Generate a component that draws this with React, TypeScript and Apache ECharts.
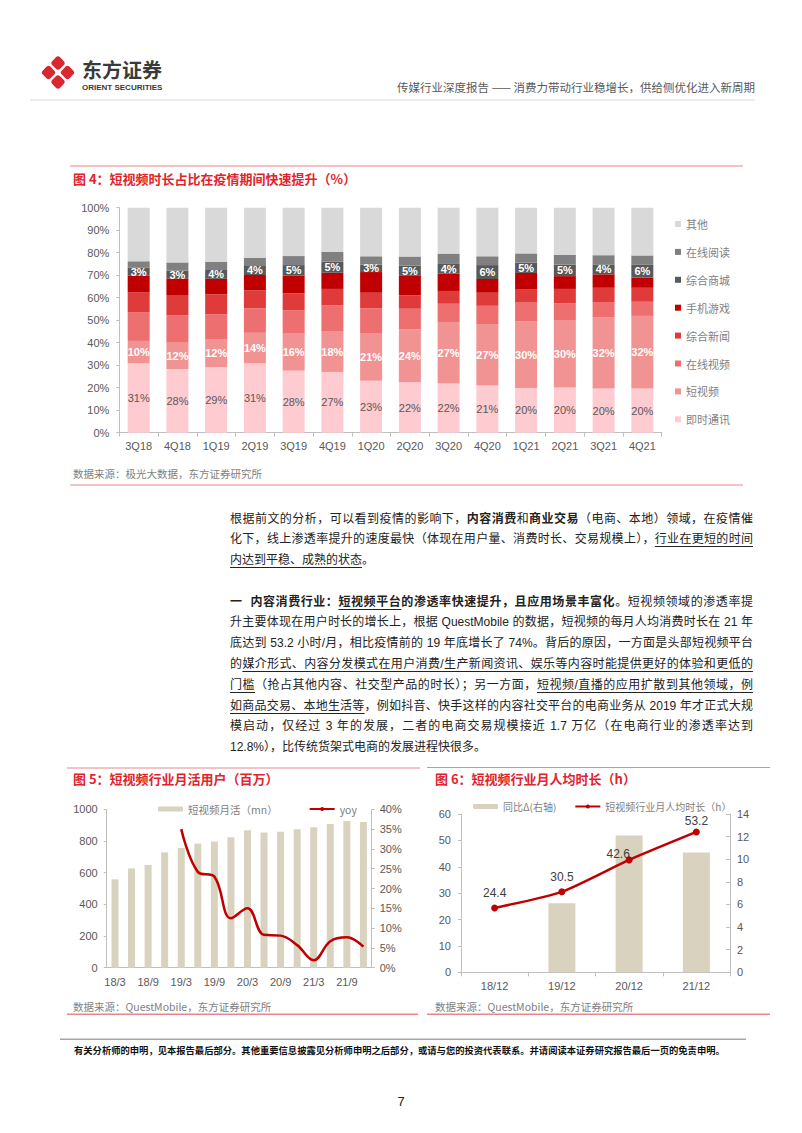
import React, { useEffect, useRef } from "react";
import * as echarts from "echarts";

// ---------- Figure 4 data ----------
const quarters = ["3Q18", "4Q18", "1Q19", "2Q19", "3Q19", "4Q19", "1Q20", "2Q20", "3Q20", "4Q20", "1Q21", "2Q21", "3Q21", "4Q21"];
const imShare = [30.8, 28.3, 29.2, 30.8, 27.6, 27.0, 23.1, 22.4, 21.9, 21.0, 19.9, 20.1, 19.7, 19.6];
const shortVideoShare = [10.0, 11.7, 12.4, 13.6, 16.4, 17.9, 21.2, 23.6, 27.0, 27.3, 29.6, 30.0, 31.6, 32.3];
const onlineVideoShare = [12.8, 12.1, 11.0, 10.9, 10.4, 11.7, 11.0, 9.1, 8.4, 8.1, 8.3, 7.4, 6.8, 6.3];
const newsShare = [8.7, 9.1, 8.9, 8.0, 7.5, 7.3, 6.9, 6.0, 5.7, 5.8, 5.8, 6.4, 6.3, 6.2];
const gameShare = [7.6, 7.4, 6.9, 6.8, 8.0, 7.2, 9.2, 8.6, 7.7, 6.1, 7.4, 5.7, 6.0, 4.5];
const mallShare = [3.4, 3.4, 3.9, 4.0, 4.6, 4.9, 3.3, 4.6, 4.3, 6.2, 4.6, 5.1, 4.4, 5.9];
const readingShare = [2.9, 3.7, 3.6, 3.7, 4.0, 4.3, 3.7, 4.0, 4.6, 3.9, 4.1, 4.4, 4.1, 4.0];
const otherShare = [23.8, 24.3, 24.1, 22.2, 21.5, 19.7, 21.6, 21.7, 20.4, 21.6, 20.3, 20.9, 21.1, 21.2];
const fig4Names = ["即时通讯", "短视频", "在线视频", "综合新闻", "手机游戏", "综合商城", "在线阅读", "其他"];
const fig4Ticks = [0, 10, 20, 30, 40, 50, 60, 70, 80, 90, 100];

// ---------- Figure 5 data ----------
const months = ["18/3", "18/6", "18/9", "18/12", "19/3", "19/6", "19/9", "19/12", "20/3", "20/6", "20/9", "20/12", "21/3", "21/6", "21/9", "21/12"];
const mau = [558, 627, 648, 728, 756, 783, 796, 823, 867, 853, 859, 874, 886, 907, 926, 920];
const mauYoy = [null, null, null, null, 35.0, 24.2, 23.0, 12.5, 15.0, 8.3, 8.1, 5.7, 1.9, 6.7, 7.7, 5.3];

// ---------- Figure 6 data ----------
const years = ["18/12", "19/12", "20/12", "21/12"];
const hours = [24.4, 30.5, 42.6, 53.2];
const hoursDelta = [null, 6.1, 12.1, 10.6];

const fig4Colors = ["#FECBD1", "#F19393", "#EE6F6F", "#E03B3B", "#C00000", "#595959", "#808080", "#D9D9D9"];
const fig4Data = [imShare, shortVideoShare, onlineVideoShare, newsShare, gameShare, mallShare, readingShare, otherShare];

const AX = "#BFBFBF";
const LBL = "#595959";
const RED_TITLE = "#E2232E";
const RED_LINE = "#E9868C";
const SANS = 'Arial, "Liberation Sans", "Noto Sans CJK SC", sans-serif';
const CJK = '"Noto Sans CJK SC", "Liberation Sans", sans-serif';

function txt(x: number, y: number, text: string, o: any = {}) {
  return {
    type: "text",
    x,
    y,
    silent: true,
    style: {
      text,
      fill: o.fill || "#333",
      fontSize: o.fontSize || 12,
      fontWeight: o.fontWeight || "normal",
      fontFamily: o.fontFamily || CJK,
      align: o.align || "left",
      verticalAlign: "middle",
    },
  };
}
function hline(x1: number, x2: number, y: number, stroke: string, w = 1) {
  return { type: "line", silent: true, shape: { x1, y1: y, x2, y2: y }, style: { stroke, lineWidth: w } };
}

function buildOption() {
  const fig4Series = fig4Names.map((name, i) => {
    const labelled = i === 0 || i === 1 || i === 5;
    return {
      name,
      type: "bar",
      stack: "share",
      xAxisIndex: 0,
      yAxisIndex: 0,
      barWidth: 22,
      data: fig4Data[i],
      itemStyle: { color: fig4Colors[i] },
      label: labelled
        ? {
            show: true,
            position: "inside",
            formatter: (p: any) => Math.round(p.value) + "%",
            fontSize: 11,
            fontFamily: SANS,
            color: i === 0 ? "#595959" : "#FFFFFF",
            fontWeight: i === 0 ? "normal" : "bold",
          }
        : { show: false },
    };
  });

  const logoSize = 11;
  const gap = 2.4;
  const a = -logoSize - gap / 2;
  const b = gap / 2;
  const logoRects = [
    [a, a],
    [b, a],
    [a, b],
    [b, b],
  ].map(([x, y]) => ({
    type: "rect",
    shape: { x, y, width: logoSize, height: logoSize, r: 3 },
    style: { fill: "#D9262F" },
  }));

  return {
    animation: false,
    textStyle: { fontFamily: SANS },
    grid: [
      { left: 119.3, top: 207.7, width: 542.4, height: 225 },
      { left: 106.7, top: 809.3, width: 265, height: 158.4 },
      { left: 461, top: 814, width: 269, height: 158.3 },
    ],
    legend: [
      {
        orient: "vertical",
        left: 670,
        top: 212,
        itemWidth: 6,
        itemHeight: 6,
        itemGap: 13.9,
        icon: "rect",
        selectedMode: false,
        data: fig4Names.slice().reverse(),
        textStyle: { fontSize: 11, color: "#7F7F7F", lineHeight: 14, fontFamily: CJK },
      },
      {
        left: 153,
        top: 798,
        itemWidth: 25,
        itemHeight: 5,
        itemGap: 31,
        selectedMode: false,
        data: ["短视频月活（mn）", "yoy"],
        textStyle: { fontSize: 10.5, color: "#7F7F7F", lineHeight: 12, fontFamily: CJK },
      },
      {
        left: 468,
        top: 795.5,
        itemWidth: 25,
        itemHeight: 5,
        itemGap: 18,
        selectedMode: false,
        data: ["同比Δ(右轴)", "短视频行业月人均时长（h）"],
        textStyle: { fontSize: 10, color: "#7F7F7F", lineHeight: 12, fontFamily: CJK },
      },
    ],
    xAxis: [
      {
        type: "category",
        gridIndex: 0,
        data: quarters,
        axisLine: { lineStyle: { color: AX } },
        axisTick: { show: true, length: 4, lineStyle: { color: AX } },
        axisLabel: { color: LBL, fontSize: 11, margin: 8 },
      },
      {
        type: "category",
        gridIndex: 1,
        data: months,
        axisLine: { lineStyle: { color: AX } },
        axisTick: { show: false },
        axisLabel: { color: LBL, fontSize: 11, margin: 9, interval: 1 },
      },
      {
        type: "category",
        gridIndex: 2,
        data: years,
        axisLine: { lineStyle: { color: AX } },
        axisTick: { show: true, length: 4, lineStyle: { color: AX } },
        axisLabel: { color: LBL, fontSize: 11, margin: 8 },
      },
    ],
    yAxis: [
      {
        type: "value",
        gridIndex: 0,
        min: fig4Ticks[0],
        max: fig4Ticks[fig4Ticks.length - 1],
        interval: 10,
        axisLine: { show: true, lineStyle: { color: AX } },
        axisTick: { show: true, length: 3, lineStyle: { color: AX } },
        splitLine: { show: false },
        axisLabel: { color: LBL, fontSize: 11, margin: 10, formatter: "{value}%" },
      },
      {
        type: "value",
        gridIndex: 1,
        min: 0,
        max: 1000,
        interval: 200,
        axisLine: { show: true, lineStyle: { color: AX } },
        axisTick: { show: true, length: 3, lineStyle: { color: AX } },
        splitLine: { show: false },
        axisLabel: { color: LBL, fontSize: 11, margin: 9, formatter: (v: number) => String(v) },
      },
      {
        type: "value",
        gridIndex: 1,
        position: "right",
        min: 0,
        max: 40,
        interval: 5,
        axisLine: { show: true, lineStyle: { color: AX } },
        axisTick: { show: true, length: 3, lineStyle: { color: AX } },
        splitLine: { show: false },
        axisLabel: { color: LBL, fontSize: 11, margin: 8, formatter: "{value}%" },
      },
      {
        type: "value",
        gridIndex: 2,
        min: 0,
        max: 60,
        interval: 10,
        axisLine: { show: true, lineStyle: { color: AX } },
        axisTick: { show: true, length: 3, lineStyle: { color: AX } },
        splitLine: { show: false },
        axisLabel: { color: LBL, fontSize: 11, margin: 10 },
      },
      {
        type: "value",
        gridIndex: 2,
        position: "right",
        min: 0,
        max: 14,
        interval: 2,
        axisLine: { show: true, lineStyle: { color: AX } },
        axisTick: { show: true, inside: true, length: 4, lineStyle: { color: AX } },
        splitLine: { show: false },
        axisLabel: { color: LBL, fontSize: 11, margin: 7 },
      },
    ],
    series: [
      ...fig4Series,
      {
        name: "短视频月活（mn）",
        type: "bar",
        xAxisIndex: 1,
        yAxisIndex: 1,
        barWidth: 7,
        data: mau,
        itemStyle: { color: "#D8D2BE" },
      },
      {
        name: "yoy",
        type: "line",
        xAxisIndex: 1,
        yAxisIndex: 2,
        data: mauYoy,
        smooth: 0.4,
        symbol: "none",
        lineStyle: { color: "#C00000", width: 2.5 },
        itemStyle: { color: "#C00000" },
      },
      {
        name: "同比Δ(右轴)",
        type: "bar",
        xAxisIndex: 2,
        yAxisIndex: 4,
        barWidth: 27,
        data: hoursDelta,
        itemStyle: { color: "#D8D2BE" },
      },
      {
        name: "短视频行业月人均时长（h）",
        type: "line",
        xAxisIndex: 2,
        yAxisIndex: 3,
        data: hours.map((v, i) =>
          i === 2
            ? { value: v, label: { offset: [-11, 9] } }
            : i === 3
            ? { value: v, label: { offset: [0, 4] } }
            : v
        ),
        smooth: 0.2,
        symbol: "circle",
        symbolSize: 7,
        lineStyle: { color: "#C00000", width: 2.5 },
        itemStyle: { color: "#C00000" },
        label: { show: true, position: "top", distance: 5, color: "#404040", fontSize: 12, fontFamily: SANS },
      },
    ],
    graphic: [
      // header
      { type: "group", x: 58, y: 72.5, rotation: Math.PI / 4, children: logoRects, silent: true },
      txt(82, 69.5, "东方证券", { fontSize: 20, fontWeight: "bold", fill: "#3A3A3A" }),
      txt(82, 87.5, "ORIENT SECURITIES", { fontSize: 8, fontWeight: "bold", fill: "#3A3A3A", fontFamily: SANS }),
      txt(755, 87, "传媒行业深度报告 —— 消费力带动行业稳增长，供给侧优化进入新周期", { fontSize: 11.5, fill: "#595959", align: "right" }),
      hline(30, 755, 100, "#D9D9D9", 1),
      // figure 4 frame
      hline(70, 743, 166, RED_LINE, 1),
      txt(73, 178, "图 4：短视频时长占比在疫情期间快速提升（%）", { fontSize: 13, fontWeight: "bold", fill: RED_TITLE }),
      txt(73, 473, "数据来源：极光大数据，东方证券研究所", { fontSize: 10.5, fill: "#7F7F7F" }),
      hline(70, 743, 485, RED_LINE, 1),
      // figure 5 frame
      hline(67, 420, 768, RED_LINE, 1),
      txt(73, 778, "图 5：短视频行业月活用户（百万）", { fontSize: 13, fontWeight: "bold", fill: RED_TITLE }),
      txt(73, 1006, "数据来源：QuestMobile，东方证券研究所", { fontSize: 10.5, fill: "#7F7F7F" }),
      hline(67, 418, 1014.3, RED_LINE, 1.5),
      // figure 6 frame
      hline(427, 770, 767.5, RED_LINE, 1),
      txt(435, 778, "图 6：短视频行业月人均时长（h）", { fontSize: 13, fontWeight: "bold", fill: RED_TITLE }),
      txt(435, 1006, "数据来源：QuestMobile，东方证券研究所", { fontSize: 10.5, fill: "#7F7F7F" }),
      hline(427, 770, 1014.3, RED_LINE, 1.5),
      // footer
      hline(60, 746, 1039.3, "#A6A6A6", 1.5),
      txt(74, 1050, "有关分析师的申明，见本报告最后部分。其他重要信息披露见分析师申明之后部分，或请与您的投资代表联系。并请阅读本证券研究报告最后一页的免责申明。", { fontSize: 9.3, fontWeight: "bold", fill: "#111" }),
      txt(401, 1101, "7", { fontSize: 13, fill: "#222", align: "center", fontFamily: SANS }),
    ],
  };
}

const lineBase: React.CSSProperties = {
  height: "20.8px",
  textAlign: "justify",
  textAlignLast: "justify" as any,
};
const lastLine: React.CSSProperties = { height: "20.8px", textAlign: "left" };
const ul: React.CSSProperties = { textDecoration: "underline", textUnderlineOffset: "3px" };

export default function App() {
  const ref = useRef<HTMLDivElement>(null);
  useEffect(() => {
    if (!ref.current) return;
    const chart = echarts.init(ref.current, undefined, { renderer: "svg" });
    chart.setOption(buildOption() as any);
    return () => chart.dispose();
  }, []);

  const bodyStyle: React.CSSProperties = {
    position: "absolute",
    left: 230,
    width: 523,
    fontFamily: '"Liberation Sans", "Noto Sans CJK SC", sans-serif',
    fontSize: 12,
    lineHeight: "20.8px",
    color: "#222",
  };

  return (
    <div style={{ position: "absolute", left: 0, top: 0, width: 802, height: 1133, background: "#fff", overflow: "hidden" }}>
      <div ref={ref} style={{ position: "absolute", left: 0, top: 0, width: 802, height: 1133 }} />
      <div style={{ ...bodyStyle, top: 508.6 }}>
        <div style={lineBase}>
          根据前文的分析，可以看到疫情的影响下，<b>内容消费</b>和<b>商业交易</b>（电商、本地）领域，在疫情催
        </div>
        <div style={lineBase}>
          化下，线上渗透率提升的速度最快（体现在用户量、消费时长、交易规模上），<span style={ul}>行业在更短的时间</span>
        </div>
        <div style={lastLine}>
          <span style={ul}>内达到平稳、成熟的状态</span>。
        </div>
      </div>
      <div style={{ ...bodyStyle, top: 591.6 }}>
        <div style={lineBase}>
          <b>
            一&nbsp;&nbsp;内容消费行业：<span style={ul}>短视频平台</span>的渗透率快速提升，且应用场景丰富化
          </b>
          。短视频领域的渗透率提
        </div>
        <div style={lineBase}>升主要体现在用户时长的增长上，根据 QuestMobile 的数据，短视频的每月人均消费时长在 21 年</div>
        <div style={lineBase}>底达到 53.2 小时/月，相比疫情前的 19 年底增长了 74%。背后的原因，一方面是头部短视频平台</div>
        <div style={lineBase}>
          的<span style={ul}>媒介形式、内容分发模式在用户消费/生产新闻资讯、娱乐等内容时能提供更好的体验和更低的</span>
        </div>
        <div style={lineBase}>
          <span style={ul}>门槛</span>（抢占其他内容、社交型产品的时长）；另一方面，<span style={ul}>短视频/直播的应用扩散到其他领域，例</span>
        </div>
        <div style={lineBase}>
          <span style={ul}>如商品交易、本地生活等</span>，例如抖音、快手这样的内容社交平台的电商业务从 2019 年才正式大规
        </div>
        <div style={lineBase}>模启动，仅经过 3 年的发展，二者的电商交易规模接近 1.7 万亿（在电商行业的渗透率达到</div>
        <div style={lastLine}>12.8%），比传统货架式电商的发展进程快很多。</div>
      </div>
    </div>
  );
}
